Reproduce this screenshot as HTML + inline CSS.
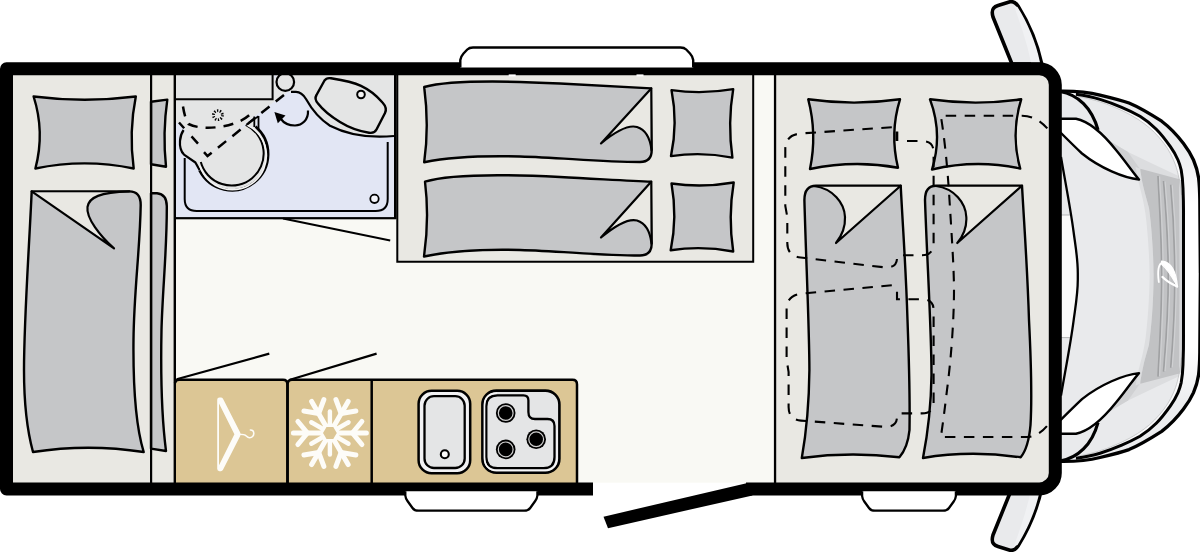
<!DOCTYPE html>
<html><head><meta charset="utf-8"><title>Floor plan</title>
<style>
html,body{margin:0;padding:0;background:#fff;font-family:"Liberation Sans",sans-serif;}
svg{display:block}
</style></head><body>
<svg width="1200" height="552" viewBox="0 0 1200 552">
<defs>
<linearGradient id="bandgrad" gradientUnits="userSpaceOnUse" x1="0" y1="150" x2="0" y2="205"><stop offset="0" stop-color="#ecedef"/><stop offset="1" stop-color="#ffffff"/></linearGradient>
<!-- CAB-HALF -->
<g id="cabhalf">
  <!-- outer fill -->
  <path d="M1060,91.2 C1075,91 1088,92 1100,95.1 C1112,98 1122,100.5 1129,103 C1141,108 1152,115 1161.7,121.2 C1170,127.5 1177.5,135.5 1183.5,143.5 C1188,149.5 1191.5,155.5 1193.5,160 C1196,166 1197.8,172 1198.6,178 C1199.3,184 1199.7,192 1199.8,200 L1200.4,279.6 L1060,279.6 Z" fill="#ffffff"/>
  <path d="M1060,91.2 C1075,91 1088,92 1100,95.1 C1112,98 1122,100.5 1129,103 C1141,108 1152,115 1161.7,121.2 C1170,127.5 1177.5,135.5 1183.5,143.5 C1188,149.5 1191.5,155.5 1193.5,160 C1196,166 1197.8,172 1198.6,178 C1199.3,184 1199.7,192 1199.8,200 L1200.4,279.6 L1060,279.6 Z" fill="url(#bandgrad)"/>
  <!-- band inside 2nd line -->
  <path d="M1075.9,94.3 C1084,95.5 1092,97 1100,99.4 C1108,101.8 1115,104.5 1121.7,107.4 C1128,110 1134,113 1140,116.3 C1146,120 1151.5,124.5 1156.3,129.3 C1161.5,134.5 1166,140.5 1170.4,146.7 C1173.5,151 1176,155.5 1178,160 C1179.5,163.5 1180.5,167 1181.2,170 C1182.3,176 1182.8,182 1183,188 C1183.4,198 1183.6,208 1183.5,217 L1183.5,279.6 L1060,279.6 L1060,92 Z" fill="#fafafb"/>
  <!-- hood -->
  <path d="M1077.9,96.5 C1090,98.5 1104,102.5 1115,107.5 C1125,111.5 1136,117.5 1144,123.5 C1151,128.5 1158,135.5 1164,143.5 C1169,150 1173,158 1175.5,165 C1178,172 1180,182 1181.5,195 L1182.4,200 L1182.6,279.6 L1060,279.6 L1060,92 Z" fill="#e9eaec"/>
  <!-- shadow under wedge -->
  <path d="M1107,139.5 L1128,152 L1156.2,165.5 L1178.5,176 L1181,184 L1140,171 L1139,180 Z" fill="#dcdddf"/>
  <path d="M1107,139.5 L1128,152 L1141,170.5 L1139,180 Z" fill="#d0d1d3"/>
  <!-- grille -->
  <path d="M1135.5,167 L1140.3,168.8 C1141,176 1142,181 1143.2,186.2 C1145.5,196 1147.5,202 1149,208 C1151,222 1153.6,250 1153.6,279.6 L1149.6,279.6 C1149.6,255 1147.5,230 1145.5,214 C1143.5,200 1140.5,190 1138.5,182 Z" fill="#dddee0"/>
  <path d="M1140.3,168.8 L1179.4,179.2 L1181.4,181 L1182,279.6 L1153.6,279.6 C1153.6,250 1151,222 1149,208 C1147.5,202 1145.5,196 1143.2,186.2 C1142,181 1141,176 1140.3,168.8 Z" fill="#c1c2c4"/>
  <g fill="none" stroke-width="1.6">
    <path d="M1158,176 C1159,200 1161.7,235 1161.7,279.6" stroke="#9fa0a2"/>
    <path d="M1159.6,176.5 C1160.6,200 1163.3,235 1163.3,279.6" stroke="#d0d1d3" stroke-width="1.1"/>
    <path d="M1163.5,181 C1165,200 1168.3,235 1168.3,279.6" stroke="#9fa0a2"/>
    <path d="M1165.1,181.5 C1166.6,200 1169.9,235 1169.9,279.6" stroke="#d0d1d3" stroke-width="1.1"/>
    <path d="M1170.7,184.8 C1172,200 1174.8,235 1174.8,279.6" stroke="#9fa0a2"/>
    <path d="M1172.3,185.3 C1173.6,200 1176.4,235 1176.4,279.6" stroke="#d0d1d3" stroke-width="1.1"/>
  </g>
  <path d="M1179,179.2 L1181.4,181 L1182,279.6 L1179.6,279.6 Z" fill="#d6d7d9"/>
  <!-- windshield edge -->
  <path d="M1060,150 C1064.5,178 1070.5,208 1073.6,232 C1075.3,245 1077.8,258 1077.8,273 L1077.8,279.6 L1060,279.6 Z" fill="#fafafa"/>
  <path d="M1060,150 C1064,175 1067.5,195 1070,215 L1060,215 Z" fill="#e8e9eb"/>
  <path d="M1061,215 L1070,215" stroke="#b4b5b7" stroke-width="1"/>
  <path d="M1061,157 C1064.5,178 1070.5,208 1073.6,232 C1075.3,245 1077.8,258 1077.8,273 L1077.8,279.6" fill="none" stroke="#000" stroke-width="2.3"/>
  <!-- white wedge -->
  <path d="M1060,118.8 L1076,118.8 C1092,122 1108,140 1116,150 C1126,162 1134,174 1139,179.5 C1124,178 1100,168 1082,153.5 C1074,146 1068,140 1060,132 Z" fill="#ffffff" stroke="#000" stroke-width="2.4" stroke-linejoin="round"/>
  <path d="M1060,91.5 C1078,94.5 1092,108 1098,130" fill="none" stroke="#000" stroke-width="3.2"/>
  <!-- lines -->
  <path d="M1077.9,96.5 C1090,98.5 1104,102.5 1115,107.5 C1125,111.5 1136,117.5 1144,123.5 C1151,128.5 1158,135.5 1164,143.5 C1169,150 1173,158 1175.5,165 C1178,172 1180,182 1181.5,195" fill="none" stroke="#b9babc" stroke-width="0.7"/>
  <path d="M1075.9,94.3 C1084,95.5 1092,97 1100,99.4 C1108,101.8 1115,104.5 1121.7,107.4 C1128,110 1134,113 1140,116.3 C1146,120 1151.5,124.5 1156.3,129.3 C1161.5,134.5 1166,140.5 1170.4,146.7 C1173.5,151 1176,155.5 1178,160 C1179.5,163.5 1180.5,167 1181.2,170 C1182.3,176 1182.8,182 1183,188 C1183.4,198 1183.6,208 1183.5,217 L1183.5,279.6" fill="none" stroke="#000" stroke-width="3"/>
  <path d="M1060,91.2 C1075,91 1088,92 1100,95.1 C1112,98 1122,100.5 1129,103 C1141,108 1152,115 1161.7,121.2 C1170,127.5 1177.5,135.5 1183.5,143.5 C1188,149.5 1191.5,155.5 1193.5,160 C1196,166 1197.8,172 1198.6,178 C1199.3,184 1199.7,192 1199.8,200 L1200.4,279.6" fill="none" stroke="#000" stroke-width="3.3"/>
</g>
<!-- MIRROR -->
<g id="mirror">
  <path d="M1012,64 L993,17 C991,10 993,7 998,5.5 L1010,1.8 C1014,1 1016,3 1018,6 C1028,22 1037,42 1041.7,64 Z" fill="#e9eaec" stroke="#000" stroke-width="3.6" stroke-linejoin="round"/>
  <path d="M1014,6 C1019,20 1027,42 1031,62.5 L1040,62.5 C1036,42 1027,22 1017.5,7 Z" fill="#f0f1f3"/>
</g>
</defs>

<rect x="0" y="0" width="1200" height="552" fill="#ffffff"/>

<!-- cab -->
<use href="#cabhalf"/>
<use href="#cabhalf" transform="translate(0,552.6) scale(1,-1)"/>
<!-- emblem -->
<path d="M1161.5,261 C1171,261 1176.3,272 1177.5,286.8 C1172.5,277.5 1167.5,269 1161.8,264.6 Z" fill="#ffffff" stroke="#ffffff" stroke-width="1.2" stroke-linejoin="round"/>
<path d="M1162.5,262.3 C1158.3,264 1157.4,272 1158.8,282" fill="none" stroke="#ffffff" stroke-width="1.8" stroke-linecap="round"/>
<path d="M1177,286.4 C1171,283.8 1166,280.5 1162.5,277" fill="none" stroke="#ffffff" stroke-width="2.4" stroke-linecap="round"/>
<!-- mirrors -->
<use href="#mirror"/>
<use href="#mirror" transform="translate(0,552) scale(1,-1)"/>

<!-- BODY-START -->
<!-- floor/interior -->
<path d="M8,68 L1000,68 L1000,489 L8,489 Z" fill="#f9f9f4"/>
<!-- rear bed area -->
<rect x="8" y="70" width="167" height="415" fill="#e9e8e3"/>
<!-- twin bed area -->
<rect x="397" y="70" width="357" height="191.5" fill="#e9e8e3"/>
<!-- cab bed area -->
<rect x="775" y="70" width="278" height="415" rx="12" fill="#e9e8e3"/><rect x="775" y="70" width="100" height="415" fill="#e9e8e3"/>
<!-- door gap white -->
<rect x="593" y="482.7" width="153.5" height="14" fill="#ffffff"/>
<!-- REAR BED -->
<g stroke="#000" stroke-width="2.4" stroke-linejoin="round" fill="#c5c6c8">
  <!-- pillow -->
  <path d="M33.6,96.5 Q84.5,103 135.8,96.5 Q128.7,132 133.7,168.5 Q84.5,158.3 35.4,168.5 Q45,132 33.6,96.5 Z"/>
  <!-- blanket -->
  <path d="M31.7,191.4 L129.3,191.4 Q140.7,191.4 140.7,205 C140,250 134,290 133.5,340 C133,390 137,430 143.7,452 Q88,443.5 33,452 C27,430 24,400 24,370 C24,320 29,250 31.7,191.4 Z"/>
</g>
<!-- fold light -->
<path d="M33.5,192.4 L112,192.4 C100,193.5 89.5,198 88.5,207 C87,218 100,236 113,246.5 Z" fill="#e9e8e3"/>
<path d="M31.7,191.4 L114,248.4 C100,236 86,218 87.5,207 C89,197 100,192.5 129.3,191.4" fill="none" stroke="#000" stroke-width="2.2" stroke-linejoin="round" stroke-linecap="round"/>
<!-- partial pillow & blanket in strip -->
<g stroke="#000" stroke-width="2.4" stroke-linejoin="round" fill="#c5c6c8">
  <path d="M151,101.8 L167.3,99.6 Q162.5,133 166,166.7 L151,164.3 Z"/>
  <path d="M151,193.2 L157,193.2 Q166.6,194 166.8,206 C167,250 162.5,290 161.5,330 C160.5,380 162,420 166,451 L151,448.6 Z"/>
</g>
<!-- divider lines -->
<rect x="150" y="74" width="2.2" height="409" fill="#000"/>
<rect x="173.6" y="74" width="2.4" height="409" fill="#000"/>
<!-- right strip lines -->
<rect x="773.9" y="74" width="2.3" height="409" fill="#000"/>

<!-- BATHROOM -->
<rect x="176" y="74" width="219" height="144" fill="#e2e6f4"/>
<!-- upper-left grey box -->
<rect x="176" y="74" width="96.5" height="25" fill="#e4e5e5"/>
<!-- grey shower region -->
<path d="M176,99 L278,99 L252,118 L207.5,156 L185,130 L179,123 L176,123 Z" fill="#e4e5e5"/>
<!-- counter grey -->
<path d="M276,74 L394,74 L394,136 C372,138 350,136 330,125.7 C318,118 311,108 306,99 C303,94 300,91.8 296,91.8 L291,91.8 L276,91.8 Z" fill="#e4e5e5"/>
<path d="M273,74 L273,99 L278,99 L288,91.8 L291,91.8 L276,80 Z" fill="#e4e5e5"/>
<!-- toilet -->
<path d="M255.3,126.7 A36,36 0 1 1 199.7,170.3 L195.4,162.5 L184,154.6 C180.5,151 179.6,146 180,141 C180.3,136.5 181.5,133 183.6,130 L207.5,156 L258,116 Z" fill="#e4e5e5"/>
<path d="M183.6,130 C181.5,133 180.3,136.5 180,141 C179.6,146 180.5,151 184,154.6 L195.4,162.5 L199.7,170.3" fill="none" stroke="#000" stroke-width="2.2" stroke-linejoin="round"/>
<path d="M255.5,126.5 A36.3,36.3 0 1 1 199.5,170.5" fill="none" stroke="#000" stroke-width="2.6"/>
<path d="M245.7,124.8 A32,32 0 1 1 200.8,162" fill="none" stroke="#000" stroke-width="2"/>
<path d="M247,125 A34,34 0 1 1 200,166" fill="none" stroke="#f4f4f4" stroke-width="1.6"/>
<path d="M254.3,116.5 L254.3,127 M258.5,116 L258.5,130 M248.8,122.7 L258.5,116.2" fill="none" stroke="#000" stroke-width="1.8"/>
<!-- box lines -->
<path d="M176,99.3 L272.6,99.3 L272.6,74" fill="none" stroke="#000" stroke-width="2"/>
<!-- shower tray outline -->
<path d="M184.7,158 L184.7,199 Q184.7,211 196.7,211 L375.7,211 Q387.7,211 387.7,199 L387.7,142" fill="none" stroke="#000" stroke-width="2"/>
<circle cx="374.5" cy="198.8" r="4.2" fill="#f4f5fa" stroke="#000" stroke-width="1.8"/>
<!-- counter curve -->
<path d="M291,91.8 L296,91.8 C300,91.8 303,94 306,99 C311,108 318,118 330,125.7 C350,136 372,138 394,136" fill="none" stroke="#000" stroke-width="2.2"/>
<!-- circle -->
<circle cx="285.3" cy="82" r="8.8" fill="#e4e5e5" stroke="#000" stroke-width="2.2"/>
<!-- sink -->
<path d="M324.5,80.5 Q326.5,77.5 331,78.3 C345,80.5 355,83 361,85.8 C370,90 377,96 382.5,102.5 Q387.5,108 385,113 L376.5,129.5 Q374.5,133.5 369,132.7 C358,131 348,127 340,122 C331,116.5 323,110 318,103.5 Q314,99 316.5,95 Z" fill="#e4e5e5" stroke="#000" stroke-width="2.4" stroke-linejoin="round"/>
<circle cx="361" cy="94.5" r="3.8" fill="#f4f4f4" stroke="#000" stroke-width="2"/>
<!-- dashed lines -->
<path d="M286.7,92.8 L207.5,156 L202.5,150.5" fill="none" stroke="#000" stroke-width="2.5" stroke-dasharray="10.5 8" stroke-dashoffset="15"/>
<path d="M201,147 L179,122.5" fill="none" stroke="#000" stroke-width="2.5" stroke-dasharray="9.7 11" stroke-dashoffset="16.2"/>
<path d="M183,106.5 C184,113 185.5,119 188.5,124 C198,128.5 210,128.5 222,126.5 C235,124.5 246,119 251,113.5 C252,112 252.3,111 252.5,110" fill="none" stroke="#000" stroke-width="2.5" stroke-dasharray="10 8"/>
<!-- shower head -->
<circle cx="217.9" cy="115.2" r="4.5" fill="none" stroke="#000" stroke-width="2.8" stroke-dasharray="1.3 1.527"/>
<!-- arrow -->
<path d="M308,110.5 C308.5,120 302,125.5 295,125.5 C288,125.5 283,122 280.5,118.5" fill="none" stroke="#000" stroke-width="2.2"/>
<path d="M274.4,112 L285.5,115.5 L277.8,123.3 Z" fill="#000"/>
<!-- bathroom walls -->
<rect x="394" y="74" width="2.6" height="145" fill="#000"/>
<rect x="175" y="217.1" width="221" height="2.2" fill="#000"/>
<path d="M283,218.5 L390.2,240.6" stroke="#000" stroke-width="2" fill="none"/>
<!-- twin bed frame -->
<path d="M397.3,74 L397.3,261.7 L753.2,261.7 L753.2,74" fill="none" stroke="#000" stroke-width="2"/>

<!-- TWIN BEDS -->
<g stroke="#000" stroke-width="2.4" stroke-linejoin="round" fill="#c5c6c8">
  <!-- blanket 1 -->
  <path d="M424.2,87 C450,80 500,80.5 560,83.5 C600,85.5 630,87.5 651.2,88.4 L651.7,150 Q651.7,162 640,162 C600,162 560,157.5 520,156.5 C480,155.5 450,157 424.2,162.2 C428,135 427.5,112 424.2,87 Z"/>
  <!-- blanket 2 -->
  <path d="M425,181.7 C450,174 500,174 560,177 C600,179 630,181 651.2,181.7 L651.7,243.5 Q651.7,255.5 640,255.5 C600,255.5 560,251 520,250 C480,249 450,251 424,256.5 C428,229 428,206 425,181.7 Z"/>
  <!-- pillows -->
  <path d="M671.5,90.1 Q702,94.5 733.2,89.1 Q727.5,123 732.4,157.6 Q702,151.5 671,156.1 Q678,123 671.5,90.1 Z"/>
  <path d="M671.5,183.5 Q702,188 733.7,182.5 Q728,217 733.2,251.5 Q702,245.5 670.7,250.2 Q677.5,217 671.5,183.5 Z"/>
</g>
<!-- folds -->
<path d="M650.2,90.5 L650.2,147 C648.5,136 644,130.5 637,128 C628,125.5 618,131 602.5,142.5 Z" fill="#e9e8e3"/>
<path d="M651.2,88.4 L601,143.4 C616,131 628,124.5 637,127 C645,129.5 650,137 651.5,150" fill="none" stroke="#000" stroke-width="2.2" stroke-linejoin="round" stroke-linecap="round"/>
<path d="M650.2,183.8 L650.2,240 C648.5,229.5 644,224 637,221.5 C628,219 618,224.5 602.5,236.5 Z" fill="#e9e8e3"/>
<path d="M651.2,181.7 L601,237.5 C616,225 628,218 637,220.5 C645,223 650,230.5 651.5,243.5" fill="none" stroke="#000" stroke-width="2.2" stroke-linejoin="round" stroke-linecap="round"/>

<!-- KITCHEN -->
<path d="M176,380 L573,380 Q577,380 577,384.5 L577,483 L176,483 Z" fill="#dcc695"/>
<path d="M175,383 Q175.5,379.8 179,379.8 L283,379.8 Q287.4,379.8 287.4,384.5 L287.4,483" fill="none" stroke="#000" stroke-width="2.5"/>
<path d="M287.6,483 L287.6,384.5 Q287.6,379.8 292,379.8 L572.5,379.8 Q577,379.8 577,384.5 L577,483" fill="none" stroke="#000" stroke-width="2.5"/>
<path d="M371.7,380 L371.7,483" stroke="#000" stroke-width="2.5"/>
<!-- door swing lines -->
<path d="M176.6,379.3 L269.3,353.6 M290,379.8 L376.6,353.6" stroke="#000" stroke-width="2.2" fill="none"/>
<!-- hanger -->
<path fill-rule="evenodd" fill="#fdfcf8" d="M217.2,399.8 Q217.2,397.4 219.5,397.4 L220.8,397.4 Q222.3,397.4 223,398.8 L240.2,432.6 Q241,434.3 240.2,436 L223,469.8 Q222.3,471.2 220.8,471.2 L219.5,471.2 Q217.2,471.2 217.2,468.8 Z M219,403.4 L219,465.2 L234.4,434.3 Z"/>
<path d="M239,434.3 C243,434.3 245,434.8 246.3,436 C247.3,437 248,437.7 249.5,437.7 C252,437.8 253.8,435.8 253.8,433.6 C253.8,431.4 252.2,430 250.4,430" fill="none" stroke="#fdfcf8" stroke-width="1.6" stroke-linecap="round"/>
<!-- snowflake -->
<g id="flake" transform="translate(329.9,433)">
  <g id="arm" stroke="#fdfcf8" stroke-width="5" stroke-linecap="round" fill="none">
    <path d="M7,0 L36.5,0"/>
    <path d="M22.5,0 L32,-11.5 M22.5,0 L32,11.5"/>
  </g>
  <use href="#arm" transform="rotate(60)"/>
  <use href="#arm" transform="rotate(120)"/>
  <use href="#arm" transform="rotate(180)"/>
  <use href="#arm" transform="rotate(240)"/>
  <use href="#arm" transform="rotate(300)"/>
  <g id="spoke" stroke="#fdfcf8" stroke-width="4.4" stroke-linecap="round">
    <path d="M0,-7 L0,-21.5"/>
  </g>
  <use href="#spoke" transform="rotate(60)"/>
  <use href="#spoke" transform="rotate(120)"/>
  <use href="#spoke" transform="rotate(180)"/>
  <use href="#spoke" transform="rotate(240)"/>
  <use href="#spoke" transform="rotate(300)"/>
  <path d="M8.8,0 L4.4,7.62 L-4.4,7.62 L-8.8,0 L-4.4,-7.62 L4.4,-7.62 Z" fill="#dcc695" stroke="#fdfcf8" stroke-width="3.4" stroke-linejoin="round"/>
</g>
<!-- sink -->
<rect x="418.6" y="390.8" width="51.6" height="82.4" rx="13" fill="#f1f1f3" stroke="#000" stroke-width="2.5"/>
<rect x="424.5" y="396.2" width="40.2" height="71.8" rx="9.5" fill="#e4e5e6" stroke="#000" stroke-width="2.3"/>
<circle cx="444.8" cy="454.2" r="4" fill="#fafafa" stroke="#000" stroke-width="2.1"/>
<!-- hob -->
<rect x="482.4" y="390.6" width="77" height="82.2" rx="14" fill="#e4e5e6" stroke="#000" stroke-width="2.6"/>
<path d="M497.5,395.4 L523.5,395.4 Q528.4,395.4 528.4,400.4 L528.4,412 Q528.4,419 535,419 L547.5,419 Q554.5,419 554.5,426 L554.5,457 Q554.5,468.2 543.5,468.2 L497.5,468.2 Q486.3,468.2 486.3,457 L486.3,406.6 Q486.3,395.4 497.5,395.4 Z" fill="#e4e5e6" stroke="#000" stroke-width="2.3"/>
<path d="M484.5,457 L484.5,406 Q484.5,393.2 497,393.2" fill="none" stroke="#f6f6f7" stroke-width="1.4"/>
<path d="M484.5,457 Q484.5,470.4 497,470.4 L544,470.4 Q557,470.4 557,457 L557,430" fill="none" stroke="#f6f6f7" stroke-width="1.4"/>
<g>
  <circle cx="505.7" cy="413" r="9.8" fill="#000"/><circle cx="505.7" cy="413" r="7.4" fill="none" stroke="#d0d0d0" stroke-width="1.2"/>
  <circle cx="536.2" cy="439.3" r="9.8" fill="#000"/><circle cx="536.2" cy="439.3" r="7.4" fill="none" stroke="#d0d0d0" stroke-width="1.2"/>
  <circle cx="505.7" cy="449.4" r="9.8" fill="#000"/><circle cx="505.7" cy="449.4" r="7.4" fill="none" stroke="#d0d0d0" stroke-width="1.2"/>
</g>

<!-- CAB BEDS -->
<g stroke="#000" stroke-width="2.4" stroke-linejoin="round" fill="#c5c6c8">
  <path d="M808.2,99.3 Q854,105.9 900,99.3 Q889.6,133 898,167.7 Q854,159.6 810,169 Q817.3,134 808.2,99.3 Z"/>
  <path d="M930,99.3 Q975.5,105.9 1021.2,99.3 Q1010.5,134 1020.2,168.5 Q976,159 932,169.5 Q943,134 930,99.3 Z"/>
  <path d="M804.4,200 Q804.4,185.7 816,185.7 L900.7,185.7 C903,230 906,270 907.5,320 C909,360 910,400 909.5,430 C908,445 904,452 899.4,457.3 Q850,451.5 801.8,458 C805,440 809,410 809.4,370 C809.4,330 806,260 804.4,200 Z"/>
  <path d="M925,200 Q925,185.7 936,185.7 L1022,185.7 C1024.5,230 1027.5,270 1029,320 C1031,360 1032,400 1030.5,425 C1029,442 1025,452 1020.7,457.3 Q970,450 923,458 C926.5,440 931,410 931.5,375 C931.5,330 927,260 925,200 Z"/>
</g>
<path d="M816,186.8 L898,186.8 L837.5,240.8 C841,236 844.3,228 844,217 C843.5,204 833,190 816,186.8 Z" fill="#e9e8e3"/>
<path d="M900.7,185.7 L836,243 C840,238 845.5,229 845,217 C844.5,203 833,188.5 814,186" fill="none" stroke="#000" stroke-width="2.2" stroke-linejoin="round" stroke-linecap="round"/>
<path d="M938,186.8 L1019.3,186.8 L958.8,240.8 C962.5,236 965.6,228 965.3,217 C964.8,204 954.5,190 938,186.8 Z" fill="#e9e8e3"/>
<path d="M1022,185.7 L957.3,243 C961.5,238 967,229 966.3,217 C965.8,203 954.5,188.5 936,186" fill="none" stroke="#000" stroke-width="2.2" stroke-linejoin="round" stroke-linecap="round"/>
<!-- dashed seats -->
<g fill="none" stroke="#000" stroke-width="2.1" stroke-dasharray="10.5 8.5">
  <!-- seat 1 -->
  <path d="M891.8,127.2 L800.6,133.5 Q785.3,135 785.3,149 L785.3,206 L787.3,217 L787.3,243 Q787.3,256 800.6,257.5 L884,267.3 Q897,268.5 897,258"/>
  <path d="M907,141 L922,141 Q933.6,141 933.6,152 L933.6,243 Q933.6,255.3 922,255.3 L897,255.3"/>
  <!-- seat 2 -->
  <path d="M891.8,285.3 L803,293.5 Q786.6,295 786.6,309 L786.6,360 L788.6,372 L788.6,407 Q788.6,419.5 801,420.6 L884,426.8 Q897,427.5 897,417"/>
  <path d="M897,291.7 L897,299.3 L922,299.3 Q933.6,299.3 933.6,310 L933.6,402 Q933.6,413.4 922,413.4 L897,413.4"/>
  <!-- cab shape -->
  <path d="M1047.3,128.4 C1040,120 1032,115.8 1022,115.8 L940.8,115.8 C944,135 947,160 949.5,200 C952,240 954,270 954,290 C954,320 951,360 947,390 C944,415 942,430 940.8,437 L1027,437 C1035,437 1042,432 1047.3,425.6"/>
</g>
<rect x="895.5" y="131.5" width="2.8" height="9.5" fill="#000"/>


<!-- BODY-FILLS-END -->

<!-- walls -->
<path d="M593,488.9 L6.5,488.9 L6.5,68.8 L1039.3,68.8 A16,16 0 0 1 1055.3,84.8 L1055.3,472.9 A16,16 0 0 1 1039.3,488.9 L746,488.9" fill="none" stroke="#000" stroke-width="13" stroke-linejoin="round"/>
<!-- WINDOWS -->
<path d="M460.3,67.4 L460.3,60 Q460.8,56.5 463.5,53.5 L467.3,49.5 Q469.3,47.5 473,47.5 L680.5,47.5 Q684.2,47.5 686.2,49.5 L690,53.5 Q692.7,56.5 693.2,60 L693.2,67.4 Z" fill="#fff"/>
<path d="M460.3,67.4 L460.3,60 Q460.8,56.5 463.5,53.5 L467.3,49.5 Q469.3,47.5 473,47.5 L680.5,47.5 Q684.2,47.5 686.2,49.5 L690,53.5 Q692.7,56.5 693.2,60 L693.2,67.4" fill="none" stroke="#000" stroke-width="2.4" stroke-linejoin="round"/>
<path d="M405.3,491.2 L405.3,495.5 Q405.6,498.5 407.5,501 L412.5,508 Q414.5,510.7 418.5,510.7 L524.2,510.7 Q528.2,510.7 530.2,508 L535.2,501 Q537.1,498.5 537.4,495.5 L537.4,491.2 Z" fill="#fff"/>
<path d="M405.3,491.2 L405.3,495.5 Q405.6,498.5 407.5,501 L412.5,508 Q414.5,510.7 418.5,510.7 L524.2,510.7 Q528.2,510.7 530.2,508 L535.2,501 Q537.1,498.5 537.4,495.5 L537.4,491.2" fill="none" stroke="#000" stroke-width="2.3" stroke-linejoin="round"/>
<path d="M862.1,491.2 L862.1,496 Q862.4,499 864.3,501.5 L869,508 Q871,510.7 875,510.7 L943,510.7 Q947,510.7 949,508 L953.7,501.5 Q955.6,499 955.9,496 L955.9,491.2 Z" fill="#fff"/>
<path d="M862.1,491.2 L862.1,496 Q862.4,499 864.3,501.5 L869,508 Q871,510.7 875,510.7 L943,510.7 Q947,510.7 949,508 L953.7,501.5 Q955.6,499 955.9,496 L955.9,491.2" fill="none" stroke="#000" stroke-width="2.3" stroke-linejoin="round"/>
<!-- small tabs -->
<rect x="508.7" y="74.4" width="7" height="2" fill="#fff"/>
<rect x="636.5" y="74.4" width="7" height="2" fill="#fff"/>
<!-- DOOR -->
<path d="M746.5,483.2 L603.5,516.7 L608,528.2 L752.5,495.4 Z" fill="#000"/>

<!-- WALLS-END -->
</svg>
</body></html>
